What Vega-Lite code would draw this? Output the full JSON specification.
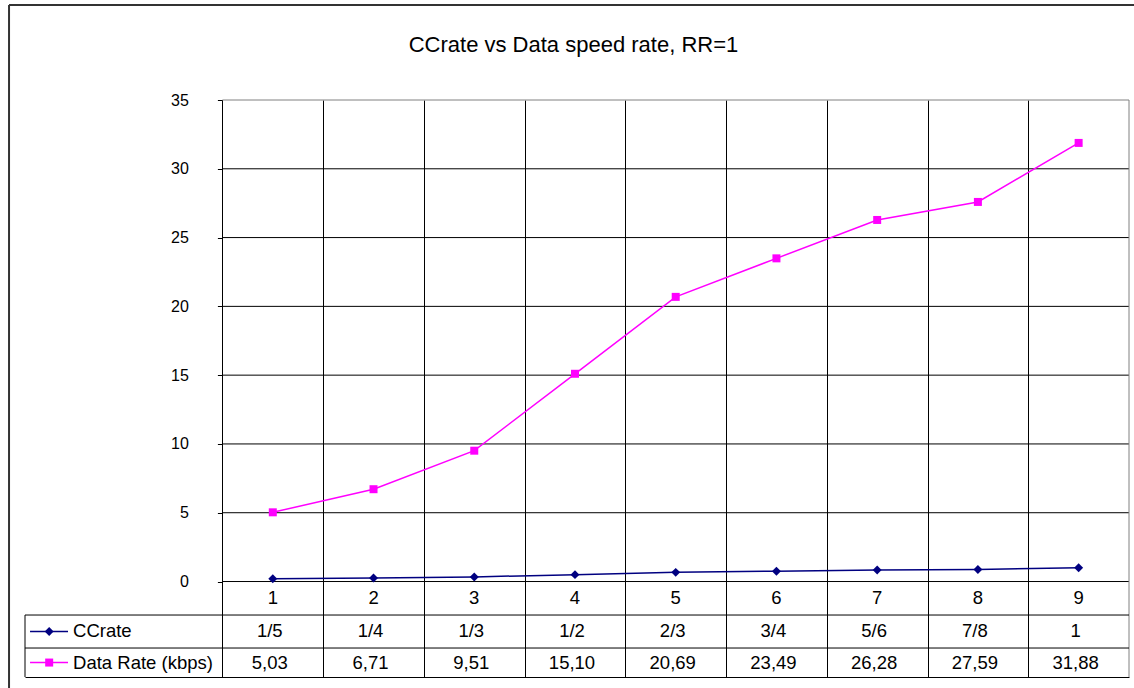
{
  "$schema": "https://vega.github.io/schema/vega-lite/v6.json",
  "width": 1104,
  "height": 577,
  "autosize": {"type": "none"},
  "padding": {"left": 25, "top": 100, "right": 5, "bottom": 11},
  "background": "white",
  "config": {
    "font": "Liberation Sans",
    "view": {"stroke": null},
    "locale": {"number": {"decimal": ",", "thousands": ".", "grouping": [3], "currency": ["", " €"]}}
  },
  "data": {
    "values": [
      {"n": 1, "cc": "1/5", "ccrate": 0.2, "datarate": 5.03},
      {"n": 2, "cc": "1/4", "ccrate": 0.25, "datarate": 6.71},
      {"n": 3, "cc": "1/3", "ccrate": 0.3333, "datarate": 9.51},
      {"n": 4, "cc": "1/2", "ccrate": 0.5, "datarate": 15.10},
      {"n": 5, "cc": "2/3", "ccrate": 0.6667, "datarate": 20.69},
      {"n": 6, "cc": "3/4", "ccrate": 0.75, "datarate": 23.49},
      {"n": 7, "cc": "5/6", "ccrate": 0.8333, "datarate": 26.28},
      {"n": 8, "cc": "7/8", "ccrate": 0.875, "datarate": 27.59},
      {"n": 9, "cc": "1", "ccrate": 1.0, "datarate": 31.88}
    ]
  },
  "layer": [
    {
      "data": {"values": [{"tick": 0}, {"tick": 5}, {"tick": 10}, {"tick": 15}, {"tick": 20}, {"tick": 25}, {"tick": 30}]},
      "mark": {"type": "rule", "color": "black", "strokeWidth": 1},
      "encoding": {
        "y": {"field": "tick", "type": "quantitative", "scale": {"domain": [-6.94, 35], "nice": false, "zero": false},
          "axis": {"values": [0, 5, 10, 15, 20, 25, 30, 35], "grid": false, "domain": false, "ticks": true, "tickSize": 5, "tickColor": "black", "tickWidth": 1, "labelFontSize": 16, "labelColor": "black", "labelFont": "Liberation Sans", "labelPadding": 29, "offset": -197.4, "title": null}},
        "x": {"datum": 0.5, "type": "quantitative", "scale": {"domain": [-1.46, 9.5], "nice": false, "zero": false},
          "axis": {"values": [0.5, 1.5, 2.5, 3.5, 4.5, 5.5, 6.5, 7.5, 8.5], "grid": true, "gridColor": "black", "gridOpacity": 1, "gridWidth": 1, "labels": false, "ticks": false, "domain": true, "domainColor": "black", "domainWidth": 1, "title": null}},
        "x2": {"datum": 9.5}
      }
    },
    {
      "data": {"values": [{"edge": "top"}]},
      "mark": {"type": "rule", "color": "#808080", "strokeWidth": 1},
      "encoding": {"y": {"datum": 35, "type": "quantitative"}, "x": {"datum": 0.5, "type": "quantitative"}, "x2": {"datum": 9.5}}
    },
    {
      "data": {"values": [{"edge": "right"}]},
      "mark": {"type": "rule", "color": "#808080", "strokeWidth": 1},
      "encoding": {"x": {"datum": 9.5, "type": "quantitative"}, "y": {"datum": -6.94, "type": "quantitative"}, "y2": {"datum": 35}}
    },
    {
      "data": {"values": [{"edge": "row1"}]},
      "mark": {"type": "rule", "color": "black", "strokeWidth": 1},
      "encoding": {"y": {"datum": -2.435, "type": "quantitative"}, "x": {"datum": -1.46, "type": "quantitative"}, "x2": {"datum": 9.5}}
    },
    {
      "data": {"values": [{"edge": "row2"}]},
      "mark": {"type": "rule", "color": "black", "strokeWidth": 1},
      "encoding": {"y": {"datum": -4.834, "type": "quantitative"}, "x": {"datum": -1.46, "type": "quantitative"}, "x2": {"datum": 9.5}}
    },
    {
      "data": {"values": [{"edge": "left"}]},
      "mark": {"type": "rule", "color": "black", "strokeWidth": 1},
      "encoding": {"x": {"datum": -1.46, "type": "quantitative"}, "y": {"datum": -6.94, "type": "quantitative"}, "y2": {"datum": -2.435}}
    },
    {
      "data": {"values": [{"edge": "frame"}]},
      "mark": {"type": "rule", "color": "#333333", "strokeWidth": 2},
      "encoding": {"y": {"datum": 41.906, "type": "quantitative"}, "x": {"datum": -1.6185, "type": "quantitative"}, "x2": {"datum": 11}}
    },
    {
      "data": {"values": [{"edge": "frame"}]},
      "mark": {"type": "rule", "color": "#333333", "strokeWidth": 2},
      "encoding": {"x": {"datum": -1.6185, "type": "quantitative"}, "y": {"datum": 41.906, "type": "quantitative"}, "y2": {"datum": -12}}
    },
    {
      "data": {"values": [{"title": "CCrate vs Data speed rate, RR=1"}]},
      "mark": {"type": "text", "fontSize": 22, "align": "center", "baseline": "alphabetic", "color": "black"},
      "encoding": {"x": {"datum": 3.985, "type": "quantitative"}, "y": {"datum": 38.49, "type": "quantitative"}, "text": {"field": "title"}}
    },
    {
      "mark": {"type": "line", "color": "#FF00FF", "strokeWidth": 1.5},
      "encoding": {"x": {"field": "n", "type": "quantitative"}, "y": {"field": "datarate", "type": "quantitative"}}
    },
    {
      "mark": {"type": "point", "shape": "square", "filled": true, "color": "#FF00FF", "size": 64, "opacity": 1},
      "encoding": {"x": {"field": "n", "type": "quantitative"}, "y": {"field": "datarate", "type": "quantitative"}}
    },
    {
      "mark": {"type": "line", "color": "#000080", "strokeWidth": 1.5},
      "encoding": {"x": {"field": "n", "type": "quantitative"}, "y": {"field": "ccrate", "type": "quantitative"}}
    },
    {
      "mark": {"type": "point", "shape": "diamond", "filled": true, "color": "#000080", "size": 80, "opacity": 1},
      "encoding": {"x": {"field": "n", "type": "quantitative"}, "y": {"field": "ccrate", "type": "quantitative"}}
    },
    {
      "mark": {"type": "text", "fontSize": 18.5, "align": "center", "baseline": "middle", "color": "black"},
      "encoding": {"x": {"field": "n", "type": "quantitative"}, "y": {"datum": -1.2, "type": "quantitative"}, "text": {"field": "n", "type": "nominal"}}
    },
    {
      "mark": {"type": "text", "fontSize": 18.5, "align": "center", "baseline": "middle", "color": "black", "dx": -3},
      "encoding": {"x": {"field": "n", "type": "quantitative"}, "y": {"datum": -3.63, "type": "quantitative"}, "text": {"field": "cc", "type": "nominal"}}
    },
    {
      "mark": {"type": "text", "fontSize": 18.5, "align": "center", "baseline": "middle", "color": "black", "dx": -3},
      "encoding": {"x": {"field": "n", "type": "quantitative"}, "y": {"datum": -5.89, "type": "quantitative"}, "text": {"field": "datarate", "type": "quantitative", "format": ".2f"}}
    },
    {
      "data": {"values": [{"label": "CCrate"}]},
      "mark": {"type": "rule", "color": "#000080", "strokeWidth": 1.5},
      "encoding": {"x": {"datum": -1.41, "type": "quantitative"}, "x2": {"datum": -1.033}, "y": {"datum": -3.63, "type": "quantitative"}}
    },
    {
      "data": {"values": [{"label": "CCrate"}]},
      "mark": {"type": "point", "shape": "diamond", "filled": true, "color": "#000080", "size": 80, "opacity": 1},
      "encoding": {"x": {"datum": -1.22, "type": "quantitative"}, "y": {"datum": -3.63, "type": "quantitative"}}
    },
    {
      "data": {"values": [{"label": "CCrate"}]},
      "mark": {"type": "text", "fontSize": 18.5, "align": "left", "baseline": "middle", "color": "black"},
      "encoding": {"x": {"datum": -0.983, "type": "quantitative"}, "y": {"datum": -3.63, "type": "quantitative"}, "text": {"field": "label"}}
    },
    {
      "data": {"values": [{"label": "Data Rate (kbps)"}]},
      "mark": {"type": "rule", "color": "#FF00FF", "strokeWidth": 1.5},
      "encoding": {"x": {"datum": -1.41, "type": "quantitative"}, "x2": {"datum": -1.033}, "y": {"datum": -5.89, "type": "quantitative"}}
    },
    {
      "data": {"values": [{"label": "Data Rate (kbps)"}]},
      "mark": {"type": "point", "shape": "square", "filled": true, "color": "#FF00FF", "size": 64, "opacity": 1},
      "encoding": {"x": {"datum": -1.22, "type": "quantitative"}, "y": {"datum": -5.89, "type": "quantitative"}}
    },
    {
      "data": {"values": [{"label": "Data Rate (kbps)"}]},
      "mark": {"type": "text", "fontSize": 18.5, "align": "left", "baseline": "middle", "color": "black"},
      "encoding": {"x": {"datum": -0.983, "type": "quantitative"}, "y": {"datum": -5.89, "type": "quantitative"}, "text": {"field": "label"}}
    }
  ]
}
